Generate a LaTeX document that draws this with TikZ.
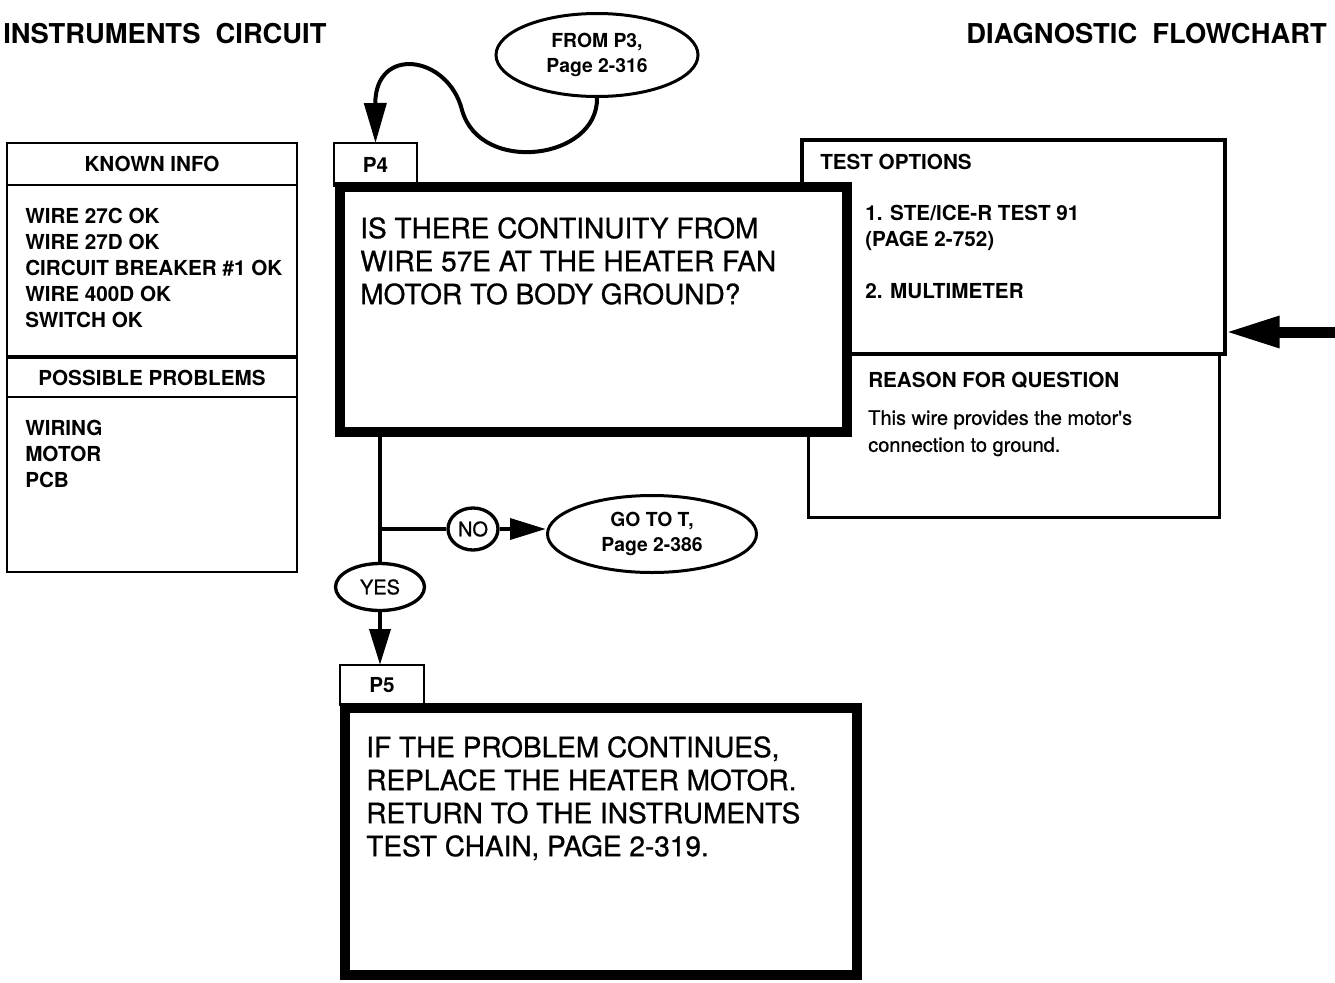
\documentclass[tikz,border=0pt]{standalone}
\usepackage{fontspec}
\setmainfont{TeX Gyre Heros}
\newfontfamily\medfont{TeX Gyre Heros}[FakeBold=0.8]
\usetikzlibrary{positioning,arrows.meta,shapes.geometric}
\newcommand{\setfs}[2]{\fontsize{#1}{#2}\selectfont}

\begin{document}
\begin{tikzpicture}[
  x=0.75pt, y=-0.75pt,
  box/.style={draw, line width=2pt, fill=white, inner sep=0pt, outer sep=0pt, anchor=north west},
  bigbox/.style={box, line width=7.5pt},
  tab/.style={box, line width=1.9pt, font=\bfseries\setfs{15.5pt}{19.5pt}},
  head/.style={box, font=\bfseries\setfs{15.5pt}{19.5pt}},
  lbl/.style={font=\bfseries\setfs{15.5pt}{19.5pt}, inner sep=0pt, align=left, anchor=north west},
  body/.style={font=\medfont\setfs{15pt}{20.25pt}, inner sep=0pt, align=left, anchor=north west},
  ask/.style={font=\medfont\setfs{21pt}{24.75pt}, inner sep=0pt, align=left, anchor=north west},
  title/.style={font=\bfseries\setfs{20.5pt}{24pt}, inner sep=0pt},
  oval/.style={draw, ellipse, line width=2.25pt, fill=white, inner sep=0pt, align=center,
               font=\bfseries\setfs{14.5pt}{18.75pt}},
  tag/.style={oval, line width=2.5pt, font=\medfont\setfs{15pt}{18pt}},
  conn/.style={line width=3.5pt},
  arr/.style={conn, -{Triangle[length=27pt, width=15.5pt]}}
]
\useasboundingbox (0,0) rectangle (1335,982);
% ================= page titles =================
\node[title, anchor=base west] (ttl) at (3,43) {INSTRUMENTS\ \ CIRCUIT};
\node[title, anchor=base east] (ttr) at (1327,43) {DIAGNOSTIC\ \ FLOWCHART};
% ================= left column: known info / possible problems =================
\node[box, minimum width=217.5pt, minimum height=159.75pt] (known) at (7,143) {};
\node[head, minimum width=217.5pt, minimum height=31.5pt] (knownhd) at (7,143) {KNOWN INFO};
\node[lbl] (knownls) at (25,208)
  {WIRE 27C OK\\WIRE 27D OK\\CIRCUIT BREAKER \#1 OK\\WIRE 400D OK\\SWITCH OK};
\node[box, minimum width=217.5pt, minimum height=160.5pt] (probs) at (7,358) {};
\node[head, minimum width=217.5pt, minimum height=29.25pt] (probshd) at (7,358) {POSSIBLE PROBLEMS};
\node[lbl] (probsls) at (25,420) {WIRING\\MOTOR\\PCB};
% ================= right column: test options / reason =================
\node[box, line width=2.6pt, minimum width=317.25pt, minimum height=160.5pt] (tests) at (802,140) {};
\node[box, line width=2.25pt, minimum width=308.25pt, minimum height=122.25pt] (reason) at (808,354) {};
\node[lbl] (testshd) at (820,154) {TEST OPTIONS};
\node[lbl] (testsls) at (865,205) {1. STE/ICE-R TEST 91\\(PAGE 2-752)\\[19.5pt]2. MULTIMETER};
\node[lbl] (reasonhd) at (868,372) {REASON FOR QUESTION};
\node[body] (reasonls) at (868,410) {This wire provides the motor's\\connection to ground.};
% incoming arrow from the right edge
\coordinate (rin) at (1335,332);
\draw[line width=8.25pt, -{Triangle[length=41pt, width=22pt]}] (rin) -- (rin -| tests.east);
% ================= question P4 =================
\node[oval, minimum width=151.5pt, minimum height=62.25pt] (from) at (597,55) {FROM P3,\\Page 2-316};
\node[tab, minimum width=62.25pt, minimum height=32.25pt] (p4tab) at (334,143) {P4};
\node[bigbox, minimum width=380.25pt, minimum height=183.75pt] (p4box) at (340,187) {};
\node[ask] (p4text) at (360,217)
  {IS THERE CONTINUITY FROM\\WIRE 57E AT THE HEATER FAN\\MOTOR TO BODY GROUND?};
\draw[line width=3pt, -{Triangle[length=30pt, width=16.5pt]}]
  (from.south) .. controls (598,160) and (480,175) .. (462,110)
  .. controls (448,55) and (375,45) .. (p4tab.north);
% ================= answers =================
\node[tag, minimum width=66.75pt, minimum height=35.25pt] (yes) at (380,587) {YES};
\node[tag, minimum width=37.5pt, minimum height=31.5pt] (no) at (473,529) {NO};
\node[oval, minimum width=156.75pt, minimum height=57.75pt] (goto) at (652,534) {GO TO T,\\Page 2-386};
\coordinate (split) at (yes.north |- no.west);
\draw[conn] (yes.north |- p4box.south) -- (yes.north);
\draw[conn] (split) -- (no.west);
\draw[arr] (no.east) -- (no.east -| goto.west);
% ================= P5 =================
\node[tab, minimum width=63pt, minimum height=30pt] (p5tab) at (340,665) {P5};
\node[bigbox, minimum width=384pt, minimum height=200.25pt] (p5box) at (345,708) {};
\node[ask] (p5text) at (366,736)
  {IF THE PROBLEM CONTINUES,\\REPLACE THE HEATER MOTOR.\\RETURN TO THE INSTRUMENTS\\TEST CHAIN, PAGE 2-319.};
\draw[arr] (yes.south) -- (yes.south |- p5tab.north);
\end{tikzpicture}
\end{document}
